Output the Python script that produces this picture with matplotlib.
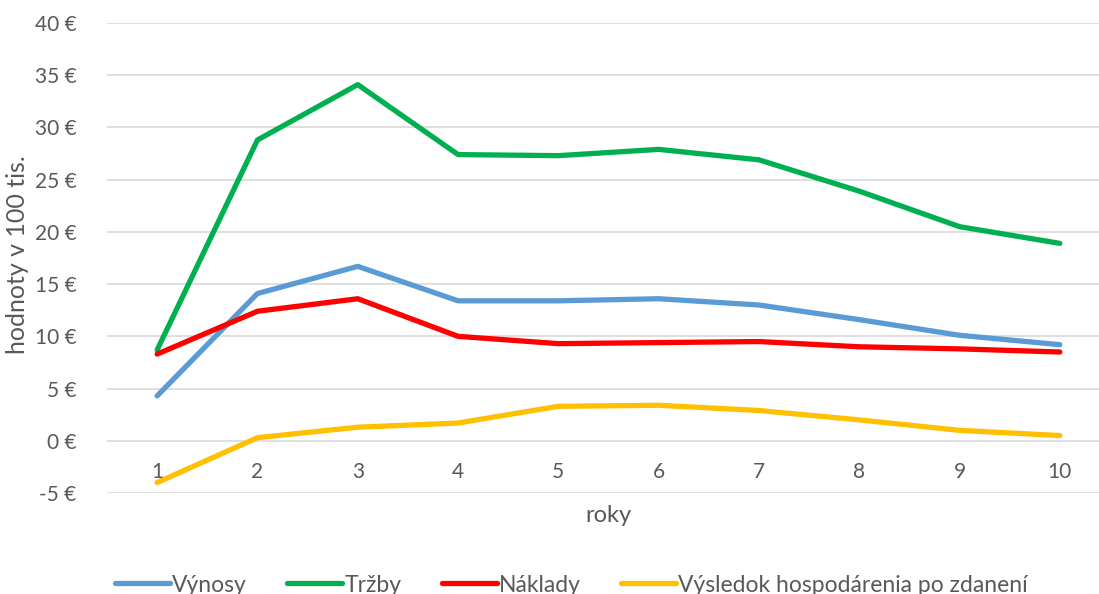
import matplotlib
matplotlib.use("Agg")
import matplotlib.pyplot as plt

roky = [1, 2, 3, 4, 5, 6, 7, 8, 9, 10]
vynosy = [4.3, 14.1, 16.7, 13.4, 13.4, 13.6, 13.0, 11.6, 10.1, 9.2]
trzby = [8.7, 28.8, 34.1, 27.4, 27.3, 27.9, 26.9, 23.9, 20.5, 18.9]
naklady = [8.3, 12.4, 13.6, 10.0, 9.3, 9.4, 9.5, 9.0, 8.8, 8.5]
vysledok = [-4.0, 0.3, 1.3, 1.7, 3.3, 3.4, 2.9, 2.0, 1.0, 0.5]
y_ticks = [-5, 0, 5, 10, 15, 20, 25, 30, 35, 40]

plt.rcParams['font.family'] = ['Lato', 'DejaVu Sans']
txt = '#595959'

fig = plt.figure(figsize=(10.99, 5.94), dpi=100)
ax = fig.add_axes([107/1099, 1-493/594, (1110-107)/1099, (493-23)/594])

ax.plot(roky, vynosy, color='#5B9BD5', lw=3.8, label='Výnosy', solid_capstyle='round')
ax.plot(roky, trzby, color='#00B050', lw=3.8, label='Tržby', solid_capstyle='round')
ax.plot(roky, naklady, color='#FF0000', lw=3.8, label='Náklady', solid_capstyle='round')
ax.plot(roky, vysledok, color='#FFC000', lw=3.8, label='Výsledok hospodárenia po zdanení', solid_capstyle='round')

ax.set_xlim(0.5, 10.5)
ax.set_ylim(-5, 40)
ax.set_yticks(y_ticks)
ax.set_yticklabels(['{} €'.format(v) for v in y_ticks], color=txt, fontsize=15)
ax.tick_params(axis='y', length=0, pad=22)
ax.set_xticks([])
ax.grid(axis='y', color='#D9D9D9', lw=1.2)
ax.set_axisbelow(True)
for s in ax.spines.values():
    s.set_visible(False)

# category labels sit just under the zero line, like Excel does
for r in roky:
    ax.text(r, -3.0, str(r), ha='center', va='center', color=txt, fontsize=15)

fig.text(608/1099, 1-515/594, 'roky', ha='center', va='center', color=txt, fontsize=17)
fig.text(18/1099, 1-255/594, 'hodnoty v 100 tis.', ha='center', va='center',
         rotation=90, color=txt, fontsize=18)

fig.legend(loc='center', bbox_to_anchor=(0.52, 9/594), ncol=4, frameon=False,
           fontsize=16.5, handlelength=2.4, columnspacing=1.75, handletextpad=0.1,
           labelcolor=txt)

fig.savefig('out.png', dpi=100)
